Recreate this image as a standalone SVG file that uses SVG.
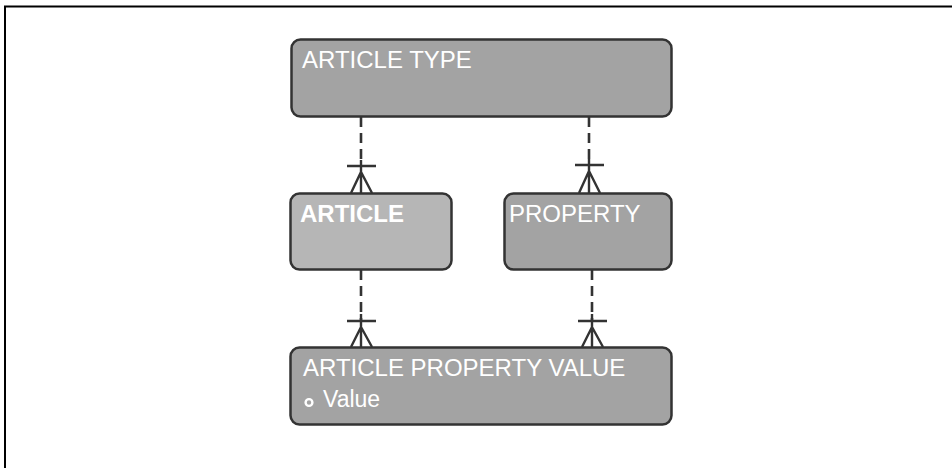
<svg xmlns="http://www.w3.org/2000/svg" width="952" height="468" viewBox="0 0 952 468">
  <style>
    .entity { stroke: #333333; stroke-width: 2.5; }
    .plain { fill: #a3a3a3; }
    .light { fill: #b6b6b6; }
    .title { font-family: "Liberation Sans", Arial, sans-serif; font-size: 24px; fill: #ffffff; }
    .bold { font-weight: bold; }
    .dash { stroke: #333333; stroke-width: 2.6; stroke-dasharray: 10 6; fill: none; }
    .crow { stroke: #333333; stroke-width: 2.4; fill: none; }
  </style>

  <!-- frame -->
  <path d="M5 468 V6.5 H952" fill="none" stroke="#000000" stroke-width="2"/>

  <!-- relationships -->
  <g id="connectors">
    <!-- ARTICLE TYPE to ARTICLE -->
    <line class="dash" x1="361" y1="117" x2="361" y2="166"/>
    <path class="crow" d="M361 160 V193 M347 166 H376 M351 193 L361 172 L372 193"/>
    <!-- ARTICLE TYPE to PROPERTY -->
    <line class="dash" x1="589" y1="117" x2="589" y2="165"/>
    <path class="crow" d="M589 159 V193 M575 165 H604 M579 193 L589 171 L600 193"/>
    <!-- ARTICLE to ARTICLE PROPERTY VALUE -->
    <line class="dash" x1="361" y1="270" x2="361" y2="321"/>
    <path class="crow" d="M361 314 V347 M347 321 H376 M351 347 L361 327 L372 347"/>
    <!-- PROPERTY to ARTICLE PROPERTY VALUE -->
    <line class="dash" x1="592" y1="270" x2="592" y2="321"/>
    <path class="crow" d="M592 314 V347 M578 321 H607 M582 347 L592 327 L603 347"/>
  </g>

  <g id="article-type">
    <rect class="entity plain" x="291.5" y="39.5" width="380" height="77" rx="9"/>
    <text class="title" x="302" y="68">ARTICLE TYPE</text>
  </g>

  <g id="article">
    <rect class="entity light" x="290.5" y="193.5" width="161" height="76" rx="9"/>
    <text class="title bold" x="300" y="222">ARTICLE</text>
  </g>

  <g id="property">
    <rect class="entity plain" x="504.5" y="193.5" width="167" height="76" rx="9"/>
    <text class="title" x="509" y="222">PROPERTY</text>
  </g>

  <g id="article-property-value">
    <rect class="entity plain" x="290.5" y="347.5" width="381" height="77" rx="9"/>
    <text class="title" x="303" y="376">ARTICLE PROPERTY VALUE</text>
    <circle cx="309" cy="402.5" r="3.4" fill="none" stroke="#ffffff" stroke-width="2.4"/>
    <text class="title" x="323" y="407" style="font-size:23px">Value</text>
  </g>
</svg>
